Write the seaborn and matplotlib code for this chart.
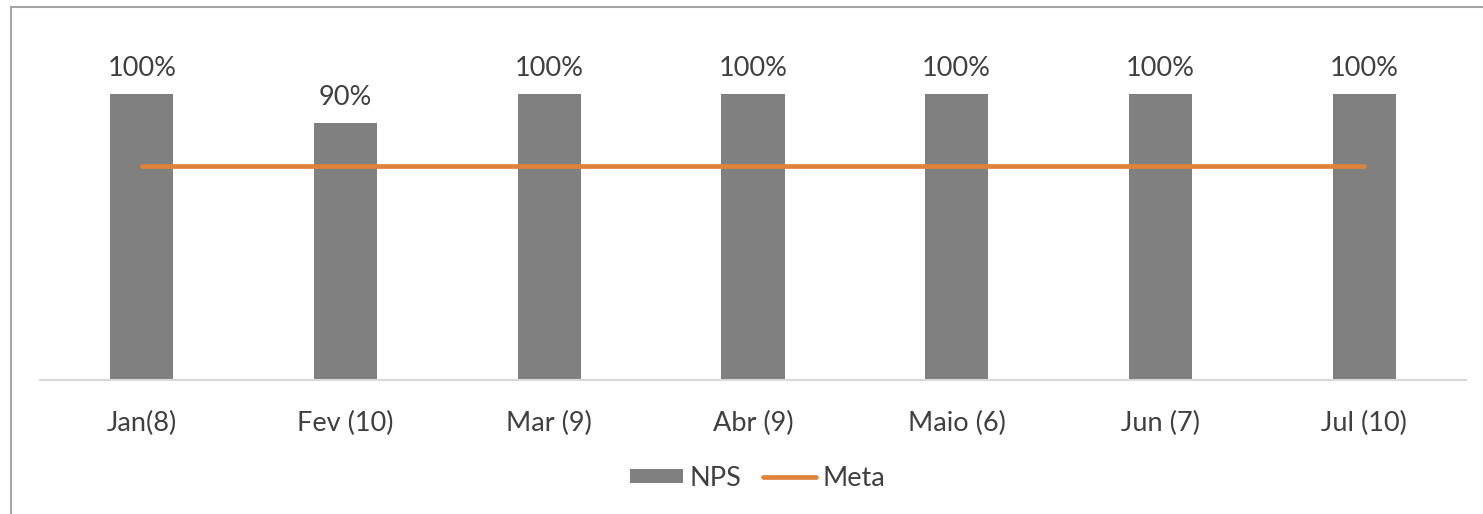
import numpy as np
import pandas as pd
import seaborn as sns
import matplotlib.pyplot as plt
from matplotlib.patches import Patch, Rectangle
from matplotlib.lines import Line2D

# dados
meses = ['Jan(8)', 'Fev (10)', 'Mar (9)', 'Abr (9)', 'Maio (6)', 'Jun (7)', 'Jul (10)']
nps = [1.00, 0.90, 1.00, 1.00, 1.00, 1.00, 1.00]
meta = [0.75, 0.75, 0.75, 0.75, 0.75, 0.75, 0.75]

df = pd.DataFrame({'mes': meses, 'nps': nps, 'meta': meta})

sns.set_style('white')
plt.rcParams['font.family'] = ['Lato', 'DejaVu Sans']

cor_barra = '#808080'
cor_meta = '#DF833B'
cor_texto = '#404040'
fs = 19.5

fig = plt.figure(figsize=(14.83, 5.14), dpi=100)
ax = fig.add_axes([0.027, 0.2607, 0.9615, 0.70])

sns.barplot(data=df, x='mes', y='nps', color=cor_barra, width=0.31,
            saturation=1, linewidth=0, ax=ax, zorder=2)
sns.pointplot(data=df, x='mes', y='meta', color=cor_meta, markers='',
              linestyles='-', ax=ax, zorder=3)
for l in ax.lines:
    l.set_linewidth(3.4)
    l.set_solid_capstyle('round')

# rótulos dos valores
for i, v in enumerate(nps):
    ax.text(i, v + 0.045, f'{v:.0%}', ha='center', va='bottom',
            fontsize=fs, color=cor_texto)

ax.set_ylim(0, 1.2587)
ax.set_xlim(-0.5, len(meses) - 0.5)
ax.set_xlabel('')
ax.set_ylabel('')
ax.set_yticks([])
ax.tick_params(axis='x', length=0, pad=22, labelsize=fs, labelcolor=cor_texto)
for s in ['top', 'right', 'left']:
    ax.spines[s].set_visible(False)
ax.spines['bottom'].set_color('#D9D9D9')
ax.spines['bottom'].set_linewidth(1.5)

# legenda
handles = [Patch(facecolor=cor_barra, edgecolor='none', label='NPS'),
           Line2D([0], [0], color=cor_meta, lw=3.4, solid_capstyle='round', label='Meta')]
fig.legend(handles=handles, loc='center', bbox_to_anchor=(0.511, 0.070), ncol=2,
           frameon=False, fontsize=fs, handlelength=1.95, handleheight=0.45,
           handletextpad=0.25, columnspacing=0.8, labelcolor=cor_texto)

# moldura do gráfico
fig.patches.append(Rectangle((11 / 1483, -0.1), 1.1, 1.1 - 7 / 514,
                             transform=fig.transFigure, fill=False,
                             edgecolor='#A6A6A6', linewidth=1.5))

fig.savefig('out.png', dpi=100)
